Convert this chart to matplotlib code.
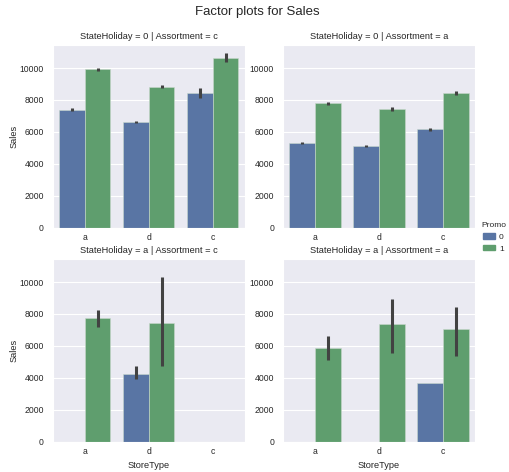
import matplotlib
matplotlib.use("Agg")
import matplotlib.pyplot as plt
import matplotlib.patches as mpatches
import numpy as np
import seaborn as sns

sns.set_style("darkgrid")
plt.rcParams['font.family'] = ['Liberation Sans', 'DejaVu Sans']

# Categorias del eje x y de los paneles
store_types = ["a", "d", "c"]
promos = [0, 1]
panel_titles = [
    "StateHoliday = 0 | Assortment = c",
    "StateHoliday = 0 | Assortment = a",
    "StateHoliday = a | Assortment = c",
    "StateHoliday = a | Assortment = a",
]

# Ventas medias por panel, promo y StoreType (nan = sin datos)
sales_promo0 = [
    [7390, 6640, 8440],
    [5310, 5120, 6160],
    [np.nan, 4240, np.nan],
    [np.nan, np.nan, 3650],
]
sales_promo1 = [
    [9920, 8840, 10600],
    [7780, 7430, 8440],
    [7740, 7440, np.nan],
    [5870, 7380, 7040],
]

# Intervalos de confianza (inferior, superior)
ci_promo0 = [
    [(7280, 7500), (6580, 6700), (8130, 8750)],
    [(5230, 5390), (5030, 5210), (6080, 6240)],
    [(np.nan, np.nan), (3920, 4720), (np.nan, np.nan)],
    [(np.nan, np.nan), (np.nan, np.nan), (np.nan, np.nan)],
]
ci_promo1 = [
    [(9820, 10020), (8750, 8930), (10350, 10970)],
    [(7680, 7880), (7320, 7540), (8320, 8560)],
    [(7190, 8240), (4720, 10310), (np.nan, np.nan)],
    [(5090, 6600), (5560, 8950), (5390, 8430)],
]

# Paleta "deep" desaturada como hace barplot
colores = [sns.desaturate(c, 0.75) for c in ["#4C72B0", "#55A868"]]

fig, axes = plt.subplots(2, 2, figsize=(5.09, 4.72), dpi=100, sharey=True)
fig.subplots_adjust(left=0.104, right=0.933, top=0.905, bottom=0.064,
                    wspace=0.2, hspace=0.17)

x = np.arange(len(store_types))
ancho = 0.4

for i, ax in enumerate(axes.flat):
    for j, (vals, cis) in enumerate([(sales_promo0[i], ci_promo0[i]),
                                     (sales_promo1[i], ci_promo1[i])]):
        pos = x - 0.2 + j * ancho
        vals = np.array(vals, dtype=float)
        ax.bar(pos, np.nan_to_num(vals), width=ancho, color=colores[j],
               edgecolor="#c8d8cc", linewidth=0.4)
        lo = np.array([c[0] for c in cis])
        hi = np.array([c[1] for c in cis])
        ok = ~np.isnan(lo)
        ax.vlines(pos[ok], lo[ok], hi[ok], color="#424242", linewidth=2.2)
    ax.set_xlim(-0.5, 2.5)
    ax.set_ylim(0, 11450)
    ax.set_xticks(x)
    ax.set_xticklabels(store_types)
    ax.set_yticks([0, 2000, 4000, 6000, 8000, 10000])
    ax.yaxis.set_tick_params(labelleft=True, pad=6.5)
    ax.xaxis.set_tick_params(labelbottom=True, pad=4)
    ax.tick_params(labelsize=6.2, colors="#262626", length=0)
    ax.set_title(panel_titles[i], fontsize=6.7, color="#262626", pad=4)
    ax.grid(axis="x", visible=False)

for ax in axes[:, 0]:
    ax.set_ylabel("Sales", fontsize=6.7, color="#262626", labelpad=1)
for ax in axes[1, :]:
    ax.set_xlabel("StoreType", fontsize=6.7, color="#262626", labelpad=3)

handles = [mpatches.Patch(color=c, label=str(p)) for c, p in zip(colores, promos)]
leg = fig.legend(handles=handles, title="Promo", loc="center left",
                 bbox_to_anchor=(0.935, 0.497), frameon=False, fontsize=6,
                 title_fontsize=6, handlelength=1.4, handleheight=0.6,
                 handletextpad=0.5, borderaxespad=0.2)

fig.suptitle("Factor plots for Sales", fontsize=9.5, color="#262626",
             x=0.505, y=0.975, va="center")

fig.savefig("out.png", dpi=100)
